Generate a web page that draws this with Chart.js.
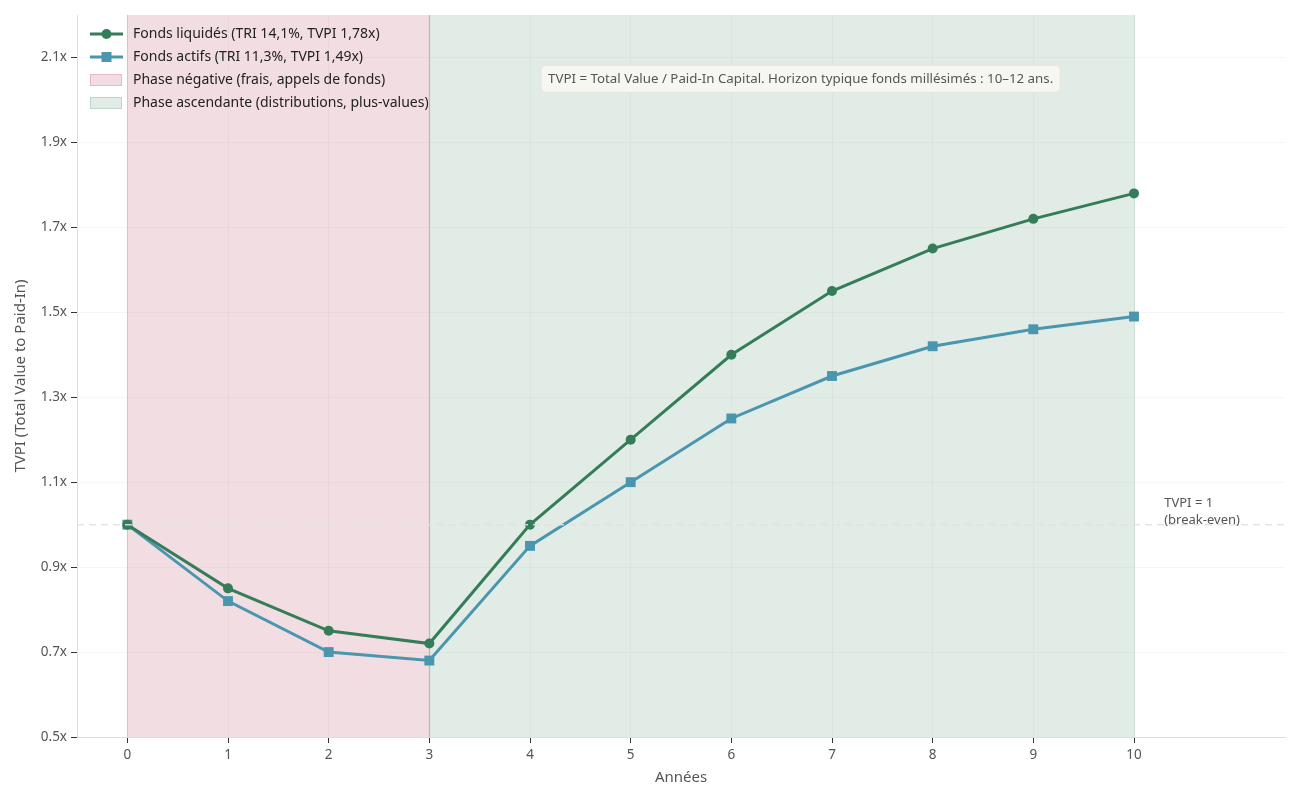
<!DOCTYPE html>
<html>
<head>
<meta charset="utf-8">
<script src="https://cdn.jsdelivr.net/npm/chart.js@4.4.1/dist/chart.umd.min.js"></script>
<style>
  html, body { margin: 0; padding: 0; background: #fff; }
  #wrap { width: 1300px; height: 800px; }
</style>
</head>
<body>
<div id="wrap"><canvas id="c" width="1300" height="800"></canvas></div>
<script>
const years = [0, 1, 2, 3, 4, 5, 6, 7, 8, 9, 10];
const liquidated = [1.0, 0.85, 0.75, 0.72, 1.0, 1.2, 1.4, 1.55, 1.65, 1.72, 1.78];
const active = [1.0, 0.82, 0.70, 0.68, 0.95, 1.10, 1.25, 1.35, 1.42, 1.46, 1.49];
const yTicks = [0.5, 0.7, 0.9, 1.1, 1.3, 1.5, 1.7, 1.9, 2.1];
const negPhase = [0, 3];
const upPhase = [3, 10];
const breakEven = 1.0;

const labelLiq = "Fonds liquidés (TRI 14,1%, TVPI 1,78x)";
const labelAct = "Fonds actifs (TRI 11,3%, TVPI 1,49x)";
const labelNeg = "Phase négative (frais, appels de fonds)";
const labelUp = "Phase ascendante (distributions, plus-values)";
const noteText = "TVPI = Total Value / Paid-In Capital. Horizon typique fonds millésimés : 10–12 ans.";

const GREEN = "#347d58";
const BLUE = "#4a96af";
const FONT = "'Noto Sans', Lato, sans-serif";

// background spans + vertical line at x=3
const spansPlugin = {
  id: "spans",
  beforeDatasetsDraw(chart) {
    const { ctx, chartArea: a, scales: { x } } = chart;
    ctx.save();
    ctx.fillStyle = "rgba(196,102,126,0.22)";
    ctx.fillRect(x.getPixelForValue(negPhase[0]), a.top, x.getPixelForValue(negPhase[1]) - x.getPixelForValue(negPhase[0]), a.bottom - a.top);
    ctx.fillStyle = "rgba(110,160,132,0.2)";
    ctx.fillRect(x.getPixelForValue(upPhase[0]), a.top, x.getPixelForValue(upPhase[1]) - x.getPixelForValue(upPhase[0]), a.bottom - a.top);
    // span edges
    ctx.strokeStyle = "rgba(196,102,126,0.3)";
    ctx.lineWidth = 1;
    let px = Math.round(x.getPixelForValue(negPhase[0])) + 0.5;
    ctx.beginPath(); ctx.moveTo(px, a.top); ctx.lineTo(px, a.bottom); ctx.stroke();
    ctx.strokeStyle = "rgba(110,160,132,0.3)";
    px = Math.round(x.getPixelForValue(upPhase[1])) + 0.5;
    ctx.beginPath(); ctx.moveTo(px, a.top); ctx.lineTo(px, a.bottom); ctx.stroke();
    ctx.strokeStyle = "#b9b9b9";
    ctx.lineWidth = 1.2;
    px = Math.round(x.getPixelForValue(3)) + 0.5;
    ctx.beginPath(); ctx.moveTo(px, a.top); ctx.lineTo(px, a.bottom); ctx.stroke();
    ctx.restore();
  },
  afterDatasetsDraw(chart) {
    const { ctx, chartArea: a, scales: { x, y } } = chart;
    ctx.save();
    // break-even dashed line
    const py = y.getPixelForValue(breakEven);
    ctx.strokeStyle = "rgba(225,225,225,0.9)";
    ctx.lineWidth = 1.5;
    ctx.setLineDash([7, 5]);
    ctx.beginPath(); ctx.moveTo(a.left, py); ctx.lineTo(a.right, py); ctx.stroke();
    ctx.setLineDash([]);

    ctx.fillStyle = "#555";
    ctx.font = "13px " + FONT;
    ctx.textBaseline = "middle";
    ctx.textAlign = "left";
    const tx = x.getPixelForValue(10.3);
    ctx.fillText("TVPI = 1", tx, py - 21);
    ctx.fillText("(break-even)", tx, py - 4);

    // note box
    ctx.font = "13.3px " + FONT;
    const nx = x.getPixelForValue(4.11);
    const ny = y.getPixelForValue(2.05);
    const w = ctx.measureText(noteText).width + 14;
    const h = 27;
    ctx.fillStyle = "rgba(250,248,242,0.92)";
    ctx.strokeStyle = "#e6e4dc";
    ctx.lineWidth = 1;
    ctx.beginPath();
    ctx.roundRect(nx, ny - h / 2, w, h, 5);
    ctx.fill(); ctx.stroke();
    ctx.fillStyle = "#555";
    ctx.fillText(noteText, nx + 7, ny + 0.5);

    // legend
    const lx = a.left + 13, ly = a.top + 19, step = 23;
    ctx.font = "14px " + FONT;
    const rows = [labelLiq, labelAct, labelNeg, labelUp];
    rows.forEach((t, i) => {
      const cy = ly + i * step;
      if (i < 2) {
        ctx.strokeStyle = i === 0 ? GREEN : BLUE;
        ctx.fillStyle = i === 0 ? GREEN : BLUE;
        ctx.lineWidth = 3;
        ctx.beginPath(); ctx.moveTo(lx, cy); ctx.lineTo(lx + 33, cy); ctx.stroke();
        if (i === 0) { ctx.beginPath(); ctx.arc(lx + 16.5, cy, 5, 0, Math.PI * 2); ctx.fill(); }
        else ctx.fillRect(lx + 11.5, cy - 5, 10, 10);
      } else {
        ctx.fillStyle = i === 2 ? "rgba(196,102,126,0.22)" : "rgba(110,160,132,0.2)";
        ctx.strokeStyle = i === 2 ? "rgba(196,102,126,0.3)" : "rgba(110,160,132,0.3)";
        ctx.lineWidth = 1;
        ctx.fillRect(lx, cy - 6, 32, 12);
        ctx.strokeRect(lx + 0.5, cy - 5.5, 31, 11);
      }
      ctx.fillStyle = "#222";
      ctx.fillText(t, lx + 43, cy + 0.5);
    });
    ctx.restore();
  }
};

new Chart(document.getElementById("c"), {
  type: "line",
  data: {
    labels: years,
    datasets: [
      {
        label: labelLiq,
        data: years.map((yr, i) => ({ x: yr, y: liquidated[i] })),
        borderColor: GREEN, backgroundColor: GREEN,
        borderWidth: 3, pointRadius: 5, pointStyle: "circle", pointBorderWidth: 0,
        tension: 0
      },
      {
        label: labelAct,
        data: years.map((yr, i) => ({ x: yr, y: active[i] })),
        borderColor: BLUE, backgroundColor: BLUE,
        borderWidth: 3, pointRadius: 7, pointStyle: "rect", pointBorderWidth: 0,
        tension: 0
      }
    ]
  },
  plugins: [spansPlugin],
  options: {
    responsive: false,
    animation: false,
    layout: { padding: { top: 15, right: 15, left: 0, bottom: 0 } },
    plugins: { legend: { display: false }, tooltip: { enabled: false } },
    scales: {
      x: {
        type: "linear", min: -0.5, max: 11.5,
        afterBuildTicks(s) { s.ticks = years.map(v => ({ value: v })); },
        afterFit(s) { s.height = 63; },
        grid: { color: "rgba(0,0,0,0.035)", tickColor: "#333", tickLength: 6, drawTicks: true },
        border: { color: "#ddd" },
        ticks: { color: "#555", font: { family: FONT, size: 13.5 }, padding: 4, callback: v => String(v) },
        title: { display: true, text: "Années", color: "#555", font: { family: FONT, size: 15 }, padding: { top: 4, bottom: 13 } }
      },
      y: {
        min: 0.5, max: 2.2,
        afterBuildTicks(s) { s.ticks = yTicks.map(v => ({ value: v })); },
        afterFit(s) { s.width = 77; },
        grid: { color: "rgba(0,0,0,0.035)", tickColor: "#333", tickLength: 6 },
        border: { color: "#ddd" },
        ticks: { color: "#555", font: { family: FONT, size: 13.5 }, padding: 4, callback: v => v.toFixed(1) + "x" },
        title: { display: true, text: "TVPI (Total Value to Paid-In)", color: "#555", font: { family: FONT, size: 15 }, padding: { top: 12, bottom: 0 } }
      }
    }
  }
});
</script>
</body>
</html>
